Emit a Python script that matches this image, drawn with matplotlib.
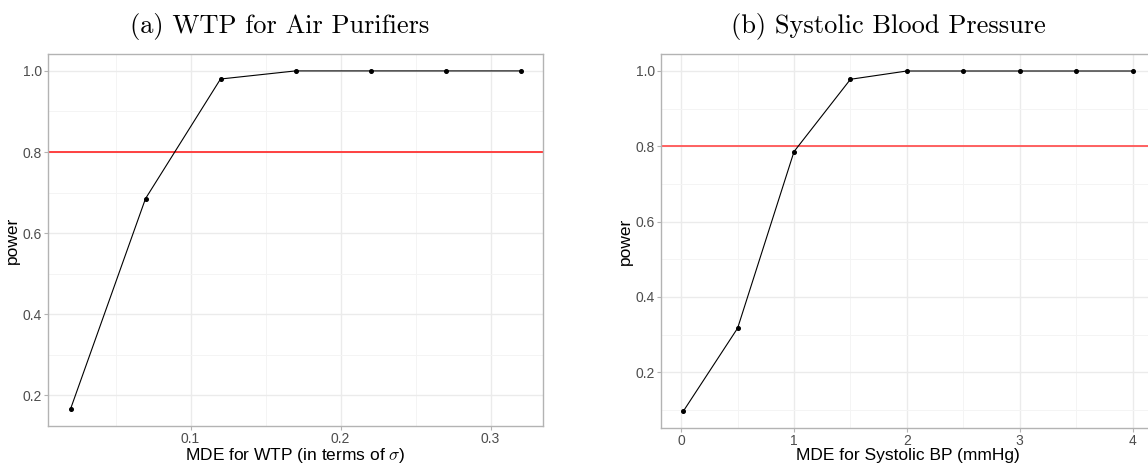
import matplotlib
matplotlib.use("Agg")
import matplotlib.pyplot as plt
from matplotlib.ticker import FixedLocator

plt.rcParams["mathtext.fontset"] = "cm"

# Data
wtp_mde = [0.02, 0.07, 0.12, 0.17, 0.22, 0.27, 0.32]
wtp_power = [0.166, 0.685, 0.980, 1.0, 1.0, 1.0, 1.0]

bp_mde = [0.02, 0.5, 1.0, 1.5, 2.0, 2.5, 3.0, 3.5, 4.0]
bp_power = [0.097, 0.317, 0.786, 0.978, 1.0, 1.0, 1.0, 1.0, 1.0]

threshold = 0.8

titles = ["(a) WTP for Air Purifiers", "(b) Systolic Blood Pressure"]
xlabels = [r"MDE for WTP (in terms of $\sigma$)", "MDE for Systolic BP (mmHg)"]
wtp_xticks = [0.1, 0.2, 0.3]
wtp_xtick_labels = ["0.1", "0.2", "0.3"]
bp_xticks = [0, 1, 2, 3, 4]
bp_xtick_labels = ["0", "1", "2", "3", "4"]
yticks = [0.2, 0.4, 0.6, 0.8, 1.0]
ytick_labels = ["0.2", "0.4", "0.6", "0.8", "1.0"]

W, H = 1148, 466
fig = plt.figure(figsize=(W / 100, H / 100), dpi=100)

def px_axes(x0, y0, x1, y1):
    return fig.add_axes([x0 / W, 1 - y1 / H, (x1 - x0) / W, (y1 - y0) / H])

ax1 = px_axes(48, 54, 543, 426)
ax2 = px_axes(661, 54, 1155, 428)

sans = ["Liberation Sans", "DejaVu Sans"]
border = "#B3B3B3"

def style(ax, xs, ys, xmaj, xmaj_labels, xmin, xlabel):
    lo, hi = min(xs), max(xs)
    pad = 0.05 * (hi - lo)
    ax.set_xlim(lo - pad, hi + pad)
    ylo, yhi = min(ys), max(ys)
    ypad = 0.05 * (yhi - ylo)
    ax.set_ylim(ylo - ypad, yhi + ypad)
    ax.xaxis.set_major_locator(FixedLocator(xmaj))
    ax.xaxis.set_minor_locator(FixedLocator(xmin))
    ax.yaxis.set_major_locator(FixedLocator(yticks))
    ax.yaxis.set_minor_locator(FixedLocator([0.1, 0.3, 0.5, 0.7, 0.9]))
    ax.set_xticklabels(xmaj_labels)
    ax.set_yticklabels(ytick_labels)
    ax.grid(which="major", color="#EBEBEB", lw=1.0, zorder=0)
    ax.grid(which="minor", color="#F4F4F4", lw=0.7, zorder=0)
    ax.set_axisbelow(True)
    for s in ax.spines.values():
        s.set_color(border)
        s.set_linewidth(1.0)
    ax.tick_params(which="major", length=3, width=0.8, color=border,
                   labelsize=10, labelcolor="#4D4D4D", pad=1.5)
    ax.tick_params(which="minor", length=0)
    for lab in ax.get_xticklabels() + ax.get_yticklabels():
        lab.set_fontfamily(sans)
    ax.set_xlabel(xlabel, fontsize=12.5, family=sans, labelpad=-0.5)
    ax.set_ylabel("power", fontsize=12.5, family=sans, labelpad=2)

ax1.axhline(threshold, color="#FF3333", lw=1.3, zorder=1)
ax1.plot(wtp_mde, wtp_power, color="black", lw=0.8, marker="o", ms=2.6, zorder=3)
style(ax1, wtp_mde, wtp_power, wtp_xticks, wtp_xtick_labels, [0.05, 0.15, 0.25], xlabels[0])

ax2.axhline(threshold, color="#FF5555", lw=1.3, zorder=1)
ax2.plot(bp_mde, bp_power, color="black", lw=0.8, marker="o", ms=2.6, zorder=3)
style(ax2, bp_mde, bp_power, bp_xticks, bp_xtick_labels, [0.5, 1.5, 2.5, 3.5], xlabels[1])

fig.text(280 / W, 1 - 27 / H, titles[0], ha="center", va="center",
         fontsize=19, family=["cmr10", "DejaVu Serif"])
fig.text(888 / W, 1 - 27 / H, titles[1], ha="center", va="center",
         fontsize=19, family=["cmr10", "DejaVu Serif"])

fig.savefig("out.png", dpi=100)
